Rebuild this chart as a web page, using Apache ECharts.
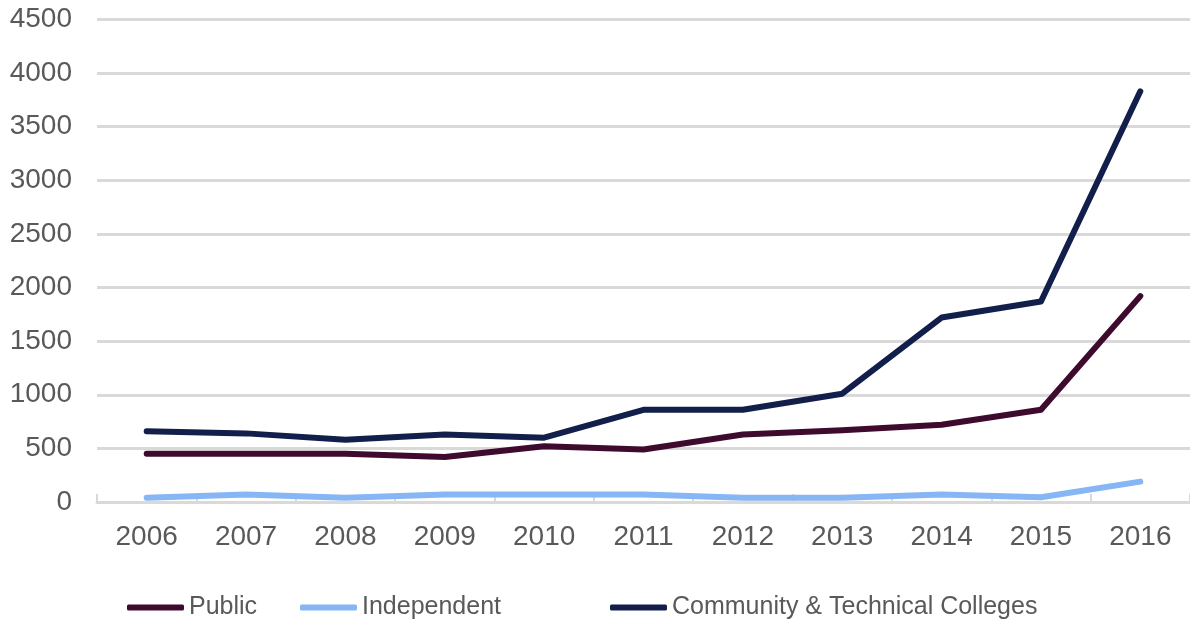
<!DOCTYPE html>
<html>
<head>
<meta charset="utf-8">
<script src="https://cdn.jsdelivr.net/npm/echarts@6/dist/echarts.min.js"></script>
<style>
  html, body { margin: 0; padding: 0; background: #ffffff; }
  #chart { width: 1190px; height: 627px; }
</style>
</head>
<body>
<div id="chart"></div>
<script>
// Years on the category axis
const years = ['2006', '2007', '2008', '2009', '2010', '2011', '2012', '2013', '2014', '2015', '2016'];

// Series values per year
const publicValues = [450, 450, 450, 420, 520, 490, 630, 670, 720, 860, 1920];
const independentValues = [40, 70, 40, 70, 70, 70, 40, 40, 70, 45, 190];
const communityValues = [660, 640, 580, 630, 600, 860, 860, 1010, 1720, 1870, 3830];

const seriesNames = ['Public', 'Independent', 'Community & Technical Colleges'];
const seriesColors = ['#3e0b2f', '#86b6f4', '#121f4b'];
const seriesValues = [publicValues, independentValues, communityValues];

const textColor = '#595959';
const gridColor = '#d9d9d9';
const fontFamily = 'Liberation Sans, Arial, Helvetica, sans-serif';

// One legend block per series so each entry sits at its own slot
const legendLefts = [127, 300, 610];
const legends = seriesNames.map((name, i) => ({
  data: [name],
  left: legendLefts[i],
  top: 595,
  padding: 0,
  icon: 'roundRect',
  itemWidth: 57,
  itemHeight: 6,
  itemGap: 5,
  textStyle: { color: textColor, fontSize: 25, fontFamily: fontFamily }
}));

const chart = echarts.init(document.getElementById('chart'), null, { renderer: 'canvas' });
chart.setOption({
  animation: false,
  backgroundColor: '#ffffff',
  legend: legends,
  grid: { left: 97, top: 19.5, width: 1098, height: 482.5, containLabel: false },
  xAxis: {
    type: 'category',
    data: years,
    boundaryGap: true,
    axisLine: { show: true, lineStyle: { color: gridColor, width: 3 } },
    axisTick: { show: true, inside: true, length: 8, alignWithLabel: false, lineStyle: { color: gridColor, width: 2 } },
    axisLabel: { color: textColor, fontSize: 28, fontFamily: fontFamily, margin: 21 }
  },
  yAxis: {
    type: 'value',
    min: 0,
    max: 4500,
    interval: 500,
    axisLine: { show: false },
    axisTick: { show: false },
    axisLabel: {
      color: textColor, fontSize: 28, fontFamily: fontFamily, margin: 25,
      formatter: (v) => String(v)
    },
    splitLine: { show: true, lineStyle: { color: gridColor, width: 3 } }
  },
  series: seriesNames.map((name, i) => ({
    name: name,
    type: 'line',
    data: seriesValues[i],
    color: seriesColors[i],
    symbol: 'none',
    showSymbol: false,
    lineStyle: { width: 6, color: seriesColors[i], cap: 'round', join: 'round' },
    z: 3
  }))
});
</script>
</body>
</html>
